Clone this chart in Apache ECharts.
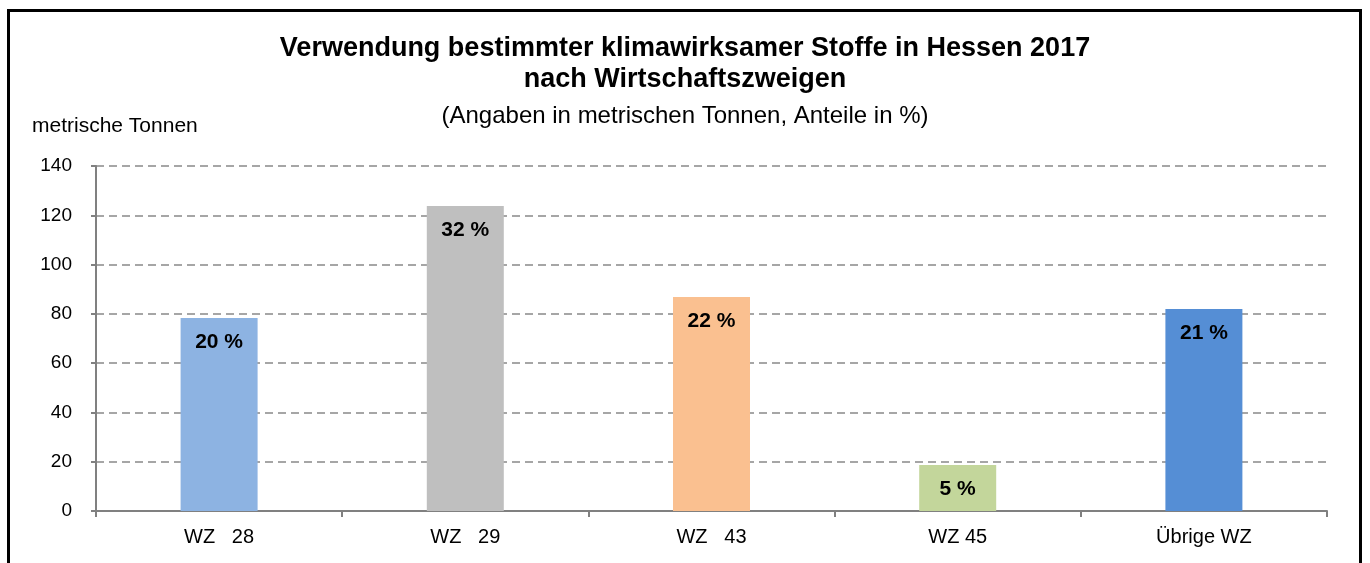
<!DOCTYPE html>
<html>
<head>
<meta charset="utf-8">
<title>Klimawirksame Stoffe Hessen 2017</title>
<script src="https://cdn.jsdelivr.net/npm/echarts@6/dist/echarts.min.js"></script>
<style>
  html, body { margin: 0; padding: 0; background: #fff; }
  #main { width: 1370px; height: 563px; }
</style>
</head>
<body>
<div id="main"></div>
<script type="text/javascript">
    // Werte
    var categories = ['WZ   28', 'WZ   29', 'WZ   43', 'WZ 45', 'Übrige WZ'];
    var tonnen = [78.3, 123.8, 86.8, 18.7, 82.0];
    var anteile = ['20 %', '32 %', '22 %', '5 %', '21 %'];
    var colors = ['#8db3e2', '#bfbfbf', '#fac090', '#c3d69b', '#558ed5'];
    var yTicks = [0, 20, 40, 60, 80, 100, 120, 140];

    var font = 'Liberation Sans, Arial, sans-serif';
    var myChart = echarts.init(document.getElementById('main'));

    var barData = tonnen.map(function (v, i) {
        return {
            value: v,
            itemStyle: { color: colors[i] },
            label: { formatter: anteile[i] }
        };
    });

    myChart.setOption({
        animation: false,
        textStyle: { fontFamily: font },
        title: [{
            text: 'Verwendung bestimmter klimawirksamer Stoffe in Hessen 2017\nnach Wirtschaftszweigen',
            left: 'center',
            top: 28,
            textStyle: { fontSize: 27, fontWeight: 'bold', color: '#000', lineHeight: 31, fontFamily: font }
        }, {
            text: '(Angaben in metrischen Tonnen, Anteile in %)',
            left: 'center',
            top: 97,
            textStyle: { fontSize: 24, fontWeight: 'normal', color: '#000', lineHeight: 28, fontFamily: font }
        }, {
            text: 'metrische Tonnen',
            left: 27,
            top: 110,
            textStyle: { fontSize: 21, fontWeight: 'normal', color: '#000', lineHeight: 22, fontFamily: font }
        }],
        graphic: [{
            type: 'rect',
            shape: { x: 8.5, y: 10.5, width: 1352, height: 600 },
            style: { fill: 'none', stroke: '#000', lineWidth: 3 },
            silent: true
        }],
        grid: { left: 96, right: 43, top: 166, bottom: 52 },
        xAxis: {
            type: 'category',
            data: categories,
            axisLine: { lineStyle: { color: '#808080', width: 2 } },
            axisTick: { show: true, length: 6, lineStyle: { color: '#808080', width: 2 } },
            axisLabel: { color: '#000', fontSize: 20, margin: 16, fontFamily: font }
        },
        yAxis: {
            type: 'value',
            min: yTicks[0],
            max: yTicks[yTicks.length - 1],
            interval: 20,
            axisLine: { show: true, lineStyle: { color: '#808080', width: 2 } },
            axisTick: { show: true, length: 5, lineStyle: { color: '#808080', width: 2 } },
            axisLabel: { color: '#000', fontSize: 19, margin: 24, fontFamily: font },
            splitLine: { lineStyle: { color: '#a6a6a6', width: 2, type: [8, 5] } }
        },
        series: [{
            type: 'bar',
            data: barData,
            barWidth: 77,
            label: {
                show: true,
                position: 'insideTop',
                distance: 14,
                color: '#000',
                fontSize: 21,
                fontWeight: 'bold',
                fontFamily: font
            }
        }]
    });
</script>
</body>
</html>
